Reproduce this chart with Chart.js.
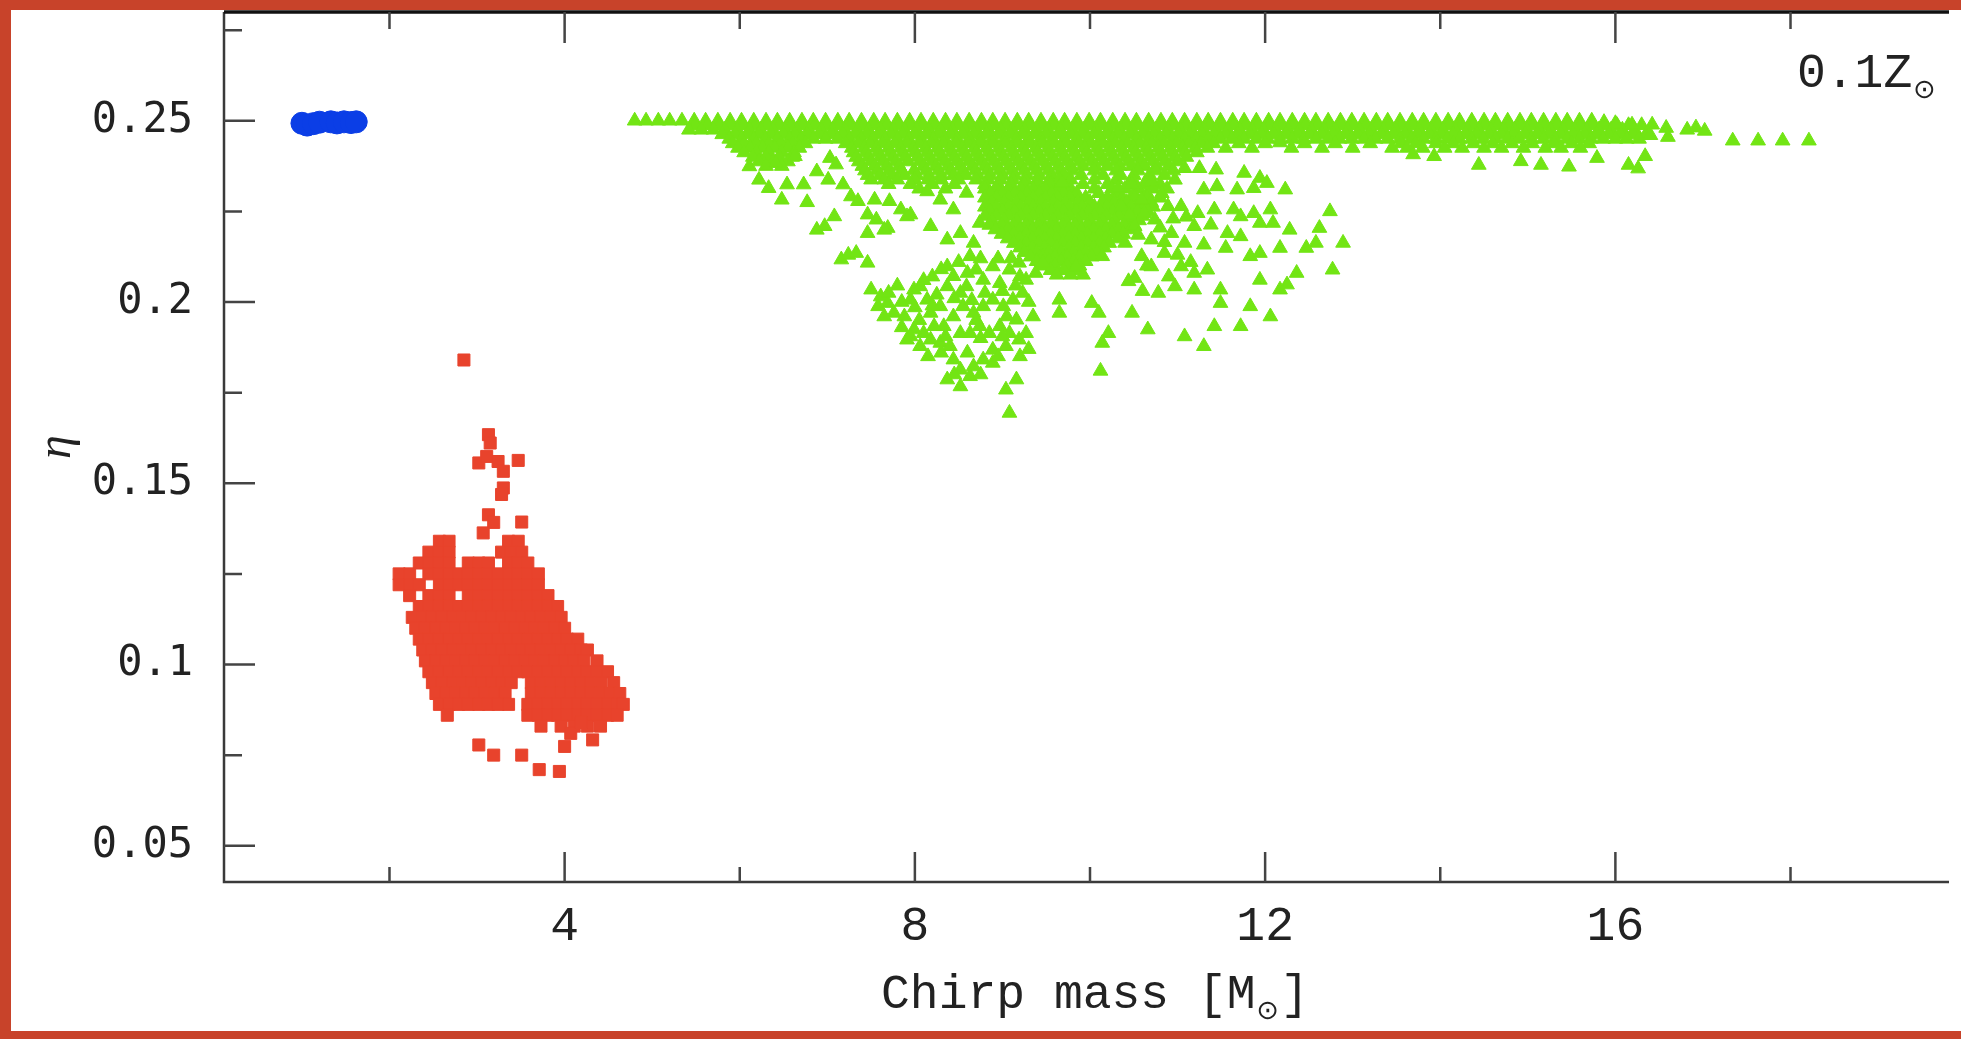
<!DOCTYPE html>
<html>
<head>
<meta charset="utf-8">
<title>Chirp mass vs eta</title>
<script src="https://cdn.jsdelivr.net/npm/chart.js@4.4.1/dist/chart.umd.min.js"></script>
<style>
  html, body { margin:0; padding:0; overflow:hidden; background:#c8432a; }
  #panel { position:absolute; left:11px; top:10px; width:1950px; height:1021px; background:#fff; }
  #wrap { position:absolute; left:0; top:0; width:1961px; height:1039px; }
</style>
</head>
<body>
<div id="panel"></div>
<div id="wrap"><canvas id="c" width="1961" height="1039"></canvas></div>
<script>
// axis ticks
const xMajorTicks = [4, 8, 12, 16];
const xMinorTicks = [2, 6, 10, 14, 18];
const yMajorTicks = [0.05, 0.1, 0.15, 0.2, 0.25];
const yMinorTicks = [0.075, 0.125, 0.175, 0.225, 0.275];

// NS-NS (blue circles)
const blueMass = [1.00, 1.06, 1.13, 1.20, 1.33, 1.40, 1.48, 1.56, 1.62];
const blueEta  = [0.2493, 0.2488, 0.2492, 0.2496, 0.2497, 0.2494, 0.2497, 0.2495, 0.2497];

// BH-NS (red squares): dense block read row by row, then loose points
const redRowEta = [0.134, 0.131, 0.128, 0.125, 0.122, 0.119, 0.116, 0.113, 0.110, 0.107, 0.104, 0.101, 0.098, 0.095, 0.092, 0.089, 0.086, 0.083];
const redRowMass = [
  [2.57, 2.68, 3.36, 3.47],
  [2.45, 2.57, 2.68, 3.28, 3.39, 3.51],
  [2.34, 2.45, 2.57, 2.68, 2.90, 3.02, 3.13, 3.36, 3.47, 3.58],
  [2.11, 2.23, 2.45, 2.57, 2.68, 2.79, 2.90, 3.02, 3.13, 3.24, 3.36, 3.47, 3.58, 3.70],
  [2.11, 2.23, 2.34, 2.57, 2.68, 2.79, 2.90, 3.02, 3.13, 3.24, 3.36, 3.47, 3.58, 3.70],
  [2.23, 2.45, 2.57, 2.68, 2.90, 3.02, 3.13, 3.24, 3.36, 3.47, 3.58, 3.70, 3.81],
  [2.34, 2.45, 2.57, 2.68, 2.79, 2.90, 3.02, 3.13, 3.24, 3.36, 3.47, 3.58, 3.70, 3.81, 3.92],
  [2.26, 2.38, 2.49, 2.60, 2.72, 2.83, 2.94, 3.06, 3.17, 3.28, 3.39, 3.51, 3.62, 3.73, 3.85, 3.96],
  [2.30, 2.41, 2.53, 2.64, 2.75, 2.87, 2.98, 3.09, 3.21, 3.32, 3.43, 3.55, 3.66, 3.77, 3.89, 4.00],
  [2.34, 2.45, 2.57, 2.68, 2.79, 2.90, 3.02, 3.13, 3.24, 3.36, 3.47, 3.58, 3.70, 3.81, 3.92, 4.03, 4.15],
  [2.38, 2.49, 2.60, 2.72, 2.83, 2.94, 3.06, 3.17, 3.28, 3.39, 3.51, 3.62, 3.73, 3.85, 3.96, 4.07, 4.19, 4.26],
  [2.41, 2.53, 2.64, 2.75, 2.87, 2.98, 3.09, 3.21, 3.32, 3.43, 3.55, 3.66, 3.77, 3.89, 4.00, 4.11, 4.22, 4.37],
  [2.45, 2.57, 2.68, 2.79, 2.90, 3.02, 3.13, 3.24, 3.36, 3.47, 3.58, 3.70, 3.81, 3.92, 4.03, 4.15, 4.26, 4.37, 4.49],
  [2.49, 2.60, 2.72, 2.83, 2.94, 3.06, 3.17, 3.28, 3.39, 3.62, 3.73, 3.85, 3.96, 4.07, 4.19, 4.30, 4.41, 4.56],
  [2.53, 2.64, 2.75, 2.87, 2.98, 3.09, 3.21, 3.32, 3.62, 3.73, 3.85, 3.96, 4.07, 4.19, 4.30, 4.41, 4.52, 4.63],
  [2.57, 2.68, 2.79, 2.90, 3.02, 3.13, 3.24, 3.36, 3.58, 3.70, 3.81, 3.92, 4.03, 4.15, 4.26, 4.37, 4.49, 4.60, 4.67],
  [2.66, 3.58, 3.70, 3.81, 3.92, 4.03, 4.15, 4.26, 4.37, 4.49, 4.60],
  [3.73, 3.96, 4.11, 4.26, 4.41]
];
const redLoose = [
  [2.85, 0.1840], [3.13, 0.1634], [3.15, 0.1611], [3.02, 0.1556], [3.11, 0.1574], [3.24, 0.1560],
  [3.30, 0.1533], [3.47, 0.1563], [3.30, 0.1487], [3.28, 0.1469], [3.13, 0.1413], [3.19, 0.1392],
  [3.07, 0.1363], [3.51, 0.1393], [3.02, 0.0778], [3.19, 0.0750], [3.51, 0.0750], [3.71, 0.0710],
  [3.94, 0.0705], [4.00, 0.0774], [4.07, 0.0810], [4.32, 0.0792], [4.19, 0.0840]
];

// BH-BH (green triangles): saturated band and core read row by row, then loose points
const greenRowEta = [0.25000, 0.24875, 0.24750, 0.24625, 0.24500, 0.24375, 0.24250, 0.24125, 0.24000, 0.23875,
  0.23750, 0.23625, 0.23500, 0.23375, 0.23250, 0.23125, 0.23000, 0.22875, 0.22750, 0.22625, 0.22500, 0.22375,
  0.22250, 0.22125, 0.22000, 0.21875, 0.21750, 0.21625, 0.21500, 0.21375, 0.21250, 0.21125, 0.21000, 0.20875, 0.20750];
const greenRowMass = [
  // 0.25000
  [4.80, 4.93, 5.07, 5.20, 5.34, 5.48, 5.61, 5.75, 5.89, 6.02, 6.16, 6.30, 6.43, 6.57, 6.71, 6.84, 6.98, 7.12, 7.25, 7.39,
   7.53, 7.66, 7.80, 7.94, 8.07, 8.21, 8.35, 8.48, 8.62, 8.76, 8.89, 9.03, 9.17, 9.30, 9.44, 9.58, 9.71, 9.85, 9.99, 10.12,
   10.26, 10.40, 10.53, 10.67, 10.81, 10.94, 11.08, 11.22, 11.35, 11.49, 11.63, 11.76, 11.90, 12.04, 12.17, 12.31, 12.45,
   12.58, 12.72, 12.86, 12.99, 13.13, 13.27, 13.40, 13.54, 13.68, 13.81, 13.95, 14.09, 14.22, 14.36, 14.50, 14.63, 14.77,
   14.91, 15.04, 15.18, 15.32, 15.45, 15.59, 15.73],
  // 0.24875
  [5.49, 5.63, 5.77, 5.90, 6.04, 6.18, 6.31, 6.45, 6.59, 6.72, 6.86, 7.00, 7.13, 7.27, 7.41, 7.54, 7.68, 7.82, 7.95, 8.09,
   8.23, 8.36, 8.50, 8.64, 8.77, 8.91, 9.05, 9.18, 9.32, 9.46, 9.59, 9.73, 9.87, 10.00, 10.14, 10.28, 10.41, 10.55, 10.69,
   10.82, 10.96, 11.10, 11.23, 11.37, 11.51, 11.64, 11.78, 11.92, 12.05, 12.19, 12.33, 12.46, 12.60, 12.74, 12.87, 13.01,
   13.15, 13.28, 13.42, 13.56, 13.69, 13.83, 13.97, 14.10, 14.24, 14.38, 14.51, 14.65, 14.79, 14.92, 15.06, 15.20, 15.33,
   15.47, 15.61, 15.74, 15.88, 16.02, 16.15, 16.30],
  // 0.24750
  [5.42, 5.56, 5.70, 5.83, 5.97, 6.11, 6.24, 6.38, 6.52, 6.65, 6.79, 6.93, 7.06, 7.20, 7.34, 7.47, 7.61, 7.75, 7.88, 8.02,
   8.16, 8.29, 8.43, 8.57, 8.70, 8.84, 8.98, 9.11, 9.25, 9.39, 9.52, 9.66, 9.80, 9.93, 10.07, 10.21, 10.34, 10.48, 10.62,
   10.75, 10.89, 11.03, 11.16, 11.30, 11.44, 11.57, 11.71, 11.85, 11.98, 12.12, 12.26, 12.39, 12.53, 12.67, 12.80, 12.94,
   13.08, 13.21, 13.35, 13.49, 13.62, 13.76, 13.90, 14.03, 14.17, 14.31, 14.44, 14.58, 14.72, 14.85, 14.99, 15.13, 15.26,
   15.40, 15.54, 15.67, 15.81, 15.95, 16.08, 16.22],
  // 0.24625
  [5.80, 5.95, 6.09, 6.22, 6.36, 6.50, 6.63, 6.77, 6.91, 7.05, 7.18, 7.32, 7.45, 7.59, 7.73, 7.86, 8.00, 8.14, 8.27, 8.41,
   8.55, 8.68, 8.82, 8.96, 9.09, 9.23, 9.37, 9.50, 9.64, 9.78, 9.91, 10.05, 10.19, 10.32, 10.46, 10.60, 10.73, 10.87, 11.01,
   11.14, 11.28, 11.42, 11.55, 11.69, 11.83, 11.96, 12.10, 12.24, 12.37, 12.51, 12.65, 12.78, 12.92, 13.06, 13.19, 13.33,
   13.47, 13.60, 13.74, 13.88, 14.01, 14.15, 14.29, 14.42, 14.56, 14.70, 14.83, 14.97, 15.11, 15.24, 15.38, 15.52, 15.65,
   15.79, 15.93, 16.06, 16.20, 16.35],
  // 0.24500
  [5.88, 6.02, 6.16, 6.29, 6.43, 6.57, 6.70, 6.84, 6.98, 7.12, 7.25, 7.39, 7.52, 7.66, 7.80, 7.93, 8.07, 8.21, 8.34, 8.48,
   8.62, 8.75, 8.89, 9.03, 9.16, 9.30, 9.44, 9.57, 9.71, 9.85, 9.98, 10.12, 10.26, 10.39, 10.53, 10.67, 10.80, 10.94, 11.08,
   11.21, 11.35, 11.49, 11.62, 11.76, 11.90, 12.03, 12.17, 12.31, 12.44, 12.58, 12.72, 12.85, 12.99, 13.13, 13.26, 13.40,
   13.54, 13.67, 13.81, 13.95, 14.08, 14.22, 14.36, 14.49, 14.63, 14.77, 14.90, 15.04, 15.18, 15.31, 15.45, 15.59, 15.72,
   15.86, 16.00, 16.13, 16.27],
  // 0.24375
  [5.92, 6.05, 6.19, 6.33, 6.47, 6.61, 6.75, 7.21, 7.35, 7.49, 7.63, 7.77, 7.91, 8.05, 8.19, 8.33, 8.47, 8.61, 8.75, 8.89,
   9.03, 9.17, 9.31, 9.45, 9.59, 9.73, 9.87, 10.01, 10.15, 10.29, 10.43, 10.57, 10.71, 10.85, 10.99, 11.13, 11.27, 11.41,
   11.70, 12.00, 12.45, 12.80, 13.20, 13.55, 13.72, 13.95, 14.15, 14.38, 14.60, 14.82, 15.05, 15.30, 15.50, 15.70],
  // 0.24250
  [5.98, 6.12, 6.26, 6.40, 6.55, 6.68, 7.28, 7.42, 7.56, 7.70, 7.84, 7.98, 8.12, 8.26, 8.40, 8.54, 8.68, 8.82, 8.96, 9.10,
   9.24, 9.38, 9.52, 9.66, 9.80, 9.94, 10.08, 10.22, 10.36, 10.50, 10.64, 10.78, 10.92, 11.06, 11.20, 11.34, 11.55, 11.85,
   12.30, 12.65, 13.00, 13.45, 13.62, 13.80, 14.05, 14.25, 14.50, 14.70, 14.95, 15.20, 15.38, 15.60],
  // 0.24125
  [6.05, 6.19, 6.33, 6.48, 6.62, 7.30, 7.44, 7.58, 7.72, 7.86, 8.00, 8.14, 8.28, 8.42, 8.56, 8.70, 8.84, 8.98, 9.12, 9.26,
   9.40, 9.54, 9.68, 9.82, 9.96, 10.10, 10.24, 10.38, 10.52, 10.66, 10.80, 10.94, 11.08, 11.22],
  // 0.24000
  [6.15, 6.30, 6.45, 6.60, 7.33, 7.47, 7.61, 7.75, 7.89, 8.03, 8.17, 8.31, 8.45, 8.59, 8.73, 8.87, 9.01, 9.15, 9.29, 9.43,
   9.57, 9.71, 9.85, 9.99, 10.13, 10.27, 10.41, 10.55, 10.69, 10.83, 10.97, 11.10],
  // 0.23875
  [6.22, 6.38, 6.55, 7.36, 7.50, 7.64, 7.78, 7.92, 8.06, 8.20, 8.34, 8.48, 8.62, 8.76, 8.90, 9.04, 9.18, 9.32, 9.46, 9.60,
   9.74, 9.88, 10.02, 10.16, 10.30, 10.44, 10.58, 10.72, 10.86, 11.00],
  // 0.23750
  [6.30, 6.48, 7.40, 7.54, 7.68, 7.82, 8.10, 8.24, 8.38, 8.52, 8.66, 8.80, 8.94, 9.08, 9.22, 9.36, 9.50, 9.64, 9.78, 9.92,
   10.06, 10.20, 10.34, 10.48, 10.62, 10.76, 10.90],
  // 0.23625
  [7.43, 7.57, 7.71, 7.85, 7.99, 8.13, 8.27, 8.41, 8.55, 8.69, 8.83, 8.97, 9.11, 9.25, 9.39, 9.53, 9.67, 9.80, 10.05, 10.30,
   10.55, 10.75, 10.95],
  // 0.23500
  [7.46, 7.60, 7.74, 7.88, 8.02, 8.16, 8.30, 8.44, 8.58, 8.72, 8.86, 9.00, 9.14, 9.28, 9.42, 9.56, 9.70, 9.90, 10.15, 10.35,
   10.50, 10.68, 10.85],
  // 0.23375
  [7.50, 7.65, 7.80, 8.00, 8.15, 8.30, 8.50, 8.70, 8.84, 8.98, 9.12, 9.26, 9.40, 9.54, 9.65, 9.78, 10.05, 10.30, 10.48, 10.70],
  // 0.23250
  [7.70, 7.95, 8.20, 8.45, 8.80, 8.95, 9.10, 9.25, 9.40, 9.55, 9.70, 9.92, 10.20, 10.45, 10.62, 10.80],
  // 0.23125
  [8.05, 8.35, 8.80, 8.93, 9.07, 9.21, 9.35, 9.49, 9.63, 9.78, 10.05, 10.25, 10.40, 10.55, 10.72, 10.88],
  // 0.23000
  [8.86, 9.00, 9.14, 9.28, 9.42, 9.56, 9.70, 9.85, 10.10, 10.30, 10.50, 10.65, 10.82],
  // 0.22875
  [8.80, 8.93, 9.07, 9.21, 9.35, 9.49, 9.63, 9.77, 9.95, 10.20, 10.37, 10.51, 10.65, 10.80],
  // 0.22750
  [8.88, 9.02, 9.16, 9.30, 9.44, 9.58, 9.72, 9.86, 10.00, 10.14, 10.28, 10.42, 10.56, 10.70],
  // 0.22625
  [8.80, 8.93, 9.07, 9.21, 9.35, 9.49, 9.63, 9.77, 9.91, 10.05, 10.19, 10.33, 10.47, 10.61, 10.72],
  // 0.22500
  [8.86, 9.00, 9.14, 9.28, 9.42, 9.56, 9.70, 9.84, 9.98, 10.12, 10.26, 10.40, 10.54, 10.66],
  // 0.22375
  [8.80, 8.93, 9.07, 9.21, 9.35, 9.49, 9.63, 9.77, 9.91, 10.05, 10.19, 10.33, 10.47, 10.60],
  // 0.22250
  [8.88, 9.02, 9.16, 9.30, 9.44, 9.58, 9.72, 9.86, 10.00, 10.14, 10.28, 10.42, 10.56],
  // 0.22125
  [8.85, 8.99, 9.13, 9.27, 9.41, 9.55, 9.69, 9.83, 9.97, 10.11, 10.25, 10.39, 10.50],
  // 0.22000
  [8.92, 9.06, 9.20, 9.34, 9.48, 9.62, 9.76, 9.90, 10.04, 10.18, 10.32, 10.46],
  // 0.21875
  [8.99, 9.13, 9.27, 9.41, 9.55, 9.69, 9.83, 9.97, 10.11, 10.25, 10.38],
  // 0.21750
  [9.06, 9.20, 9.34, 9.48, 9.62, 9.76, 9.90, 10.04, 10.18, 10.32],
  // 0.21625
  [9.13, 9.27, 9.41, 9.55, 9.69, 9.83, 9.97, 10.11, 10.22],
  // 0.21500
  [9.20, 9.34, 9.48, 9.62, 9.76, 9.90, 10.04, 10.16],
  // 0.21375
  [9.25, 9.39, 9.53, 9.67, 9.81, 9.95, 10.08],
  // 0.21250
  [9.32, 9.46, 9.60, 9.74, 9.88, 10.02],
  // 0.21125
  [9.39, 9.53, 9.67, 9.81, 9.95],
  // 0.21000
  [9.46, 9.60, 9.74, 9.88],
  // 0.20875
  [9.55, 9.70, 9.85],
  // 0.20750
  [9.62, 9.78, 9.92]
];
const greenLoose = [
  // right end of the band
  [15.87, 0.2496], [16.00, 0.2493], [16.19, 0.2489], [16.42, 0.2489], [16.58, 0.2480], [16.82, 0.2475], [16.92, 0.2481],
  [17.02, 0.2472], [17.34, 0.2445], [17.63, 0.2445], [17.91, 0.2445], [18.21, 0.2445], [16.40, 0.2460], [16.60, 0.2455],
  [13.69, 0.2407], [13.93, 0.2402], [14.44, 0.2378], [14.92, 0.2388], [15.15, 0.2378], [15.47, 0.2373], [15.79, 0.2397],
  [16.15, 0.2378], [16.26, 0.2368], [16.34, 0.2402], [12.17, 0.2440],
  // left side below the band
  [6.11, 0.2374], [6.22, 0.2337], [6.33, 0.2314], [6.41, 0.2383], [6.48, 0.2282], [6.54, 0.2324], [6.63, 0.2402],
  [6.73, 0.2324], [6.77, 0.2275], [6.88, 0.2360], [6.88, 0.2199], [6.97, 0.2209], [7.01, 0.2337], [7.03, 0.2397],
  [7.08, 0.2236], [7.10, 0.2379], [7.16, 0.2117], [7.18, 0.2324], [7.24, 0.2130], [7.27, 0.2291], [7.33, 0.2135],
  [7.35, 0.2278], [7.46, 0.2241], [7.46, 0.2190], [7.46, 0.2108], [7.56, 0.2227], [7.69, 0.2204], [7.71, 0.2278],
  [7.84, 0.2255], [7.91, 0.2236], [7.54, 0.2282], [7.65, 0.2199], [7.95, 0.2241], [8.14, 0.2305], [8.18, 0.2209],
  [8.29, 0.2282], [8.37, 0.2172], [8.44, 0.2255], [8.52, 0.2190], [8.59, 0.2301], [8.67, 0.2163], [8.74, 0.2218],
  // lower lobe
  [7.50, 0.2034], [7.61, 0.2015], [7.58, 0.1988], [7.69, 0.1997], [7.76, 0.1970], [7.88, 0.1960], [7.95, 0.2006],
  [7.99, 0.2034], [8.06, 0.2043], [8.14, 0.2006], [8.18, 0.1970], [8.29, 0.1988], [8.37, 0.2043], [8.37, 0.2098],
  [8.44, 0.2071], [8.52, 0.2025], [8.59, 0.2043], [8.63, 0.2126], [8.70, 0.2089], [8.78, 0.2061], [8.89, 0.2098],
  [8.97, 0.2052], [9.08, 0.2089], [9.19, 0.2108], [9.27, 0.2061], [9.38, 0.2080], [9.46, 0.2108], [9.23, 0.2025],
  [9.12, 0.2006], [9.01, 0.1988], [8.89, 0.2006], [8.78, 0.1988], [8.67, 0.1970], [8.55, 0.1988], [8.44, 0.1960],
  [8.33, 0.1933], [8.22, 0.1933], [8.10, 0.1914], [7.99, 0.1924], [7.91, 0.1896], [8.06, 0.1878], [8.18, 0.1896],
  [8.29, 0.1887], [8.40, 0.1878], [8.52, 0.1914], [8.63, 0.1914], [8.74, 0.1933], [8.85, 0.1914], [8.97, 0.1933],
  [9.08, 0.1914], [9.16, 0.1951], [9.27, 0.1914], [9.19, 0.1896], [9.04, 0.1878], [8.89, 0.1868], [8.78, 0.1841],
  [8.67, 0.1822], [8.52, 0.1813], [8.44, 0.1841], [8.37, 0.1786], [8.52, 0.1767], [8.63, 0.1795], [9.04, 0.1758],
  [9.16, 0.1786], [9.08, 0.1694], [8.89, 0.1832], [7.70, 0.2025], [7.85, 0.2000], [8.00, 0.1985], [8.25, 0.2020],
  [8.45, 0.2010], [8.65, 0.2005], [8.80, 0.2025], [9.00, 0.2030], [9.15, 0.2045], [9.30, 0.2000], [8.60, 0.2080],
  [8.20, 0.2070], [8.05, 0.1950], [8.35, 0.1905], [8.75, 0.1900], [9.00, 0.1905], [8.60, 0.1860], [8.30, 0.1860],
  [7.85, 0.1930], [9.35, 0.1960], [9.20, 0.2070], [8.95, 0.2120], [8.50, 0.2110], [7.80, 0.2045], [8.10, 0.2060],
  [8.30, 0.2090], [8.75, 0.2120], [9.10, 0.2120], [7.65, 0.1960], [7.95, 0.1905], [8.15, 0.1850], [8.45, 0.1800],
  [8.75, 0.1800], [8.95, 0.1850], [9.20, 0.1850], [9.30, 0.1870], [8.20, 0.1990], [8.70, 0.1950], [9.05, 0.1960],
  // right lobe
  [11.08, 0.2369], [11.25, 0.2369], [11.44, 0.2365], [11.76, 0.2356], [11.94, 0.2342], [9.68, 0.2328], [10.32, 0.2314],
  [10.48, 0.2324], [10.70, 0.2333], [10.97, 0.2337], [11.30, 0.2310], [11.45, 0.2319], [11.68, 0.2310], [11.87, 0.2314],
  [12.02, 0.2328], [12.23, 0.2310], [10.36, 0.2264], [10.59, 0.2282], [10.89, 0.2264], [11.04, 0.2264], [11.23, 0.2245],
  [11.42, 0.2255], [11.64, 0.2255], [11.72, 0.2236], [11.87, 0.2245], [12.06, 0.2255], [12.74, 0.2250], [11.19, 0.2209],
  [11.38, 0.2213], [11.57, 0.2190], [11.72, 0.2181], [11.94, 0.2218], [12.09, 0.2218], [12.28, 0.2199], [12.62, 0.2204],
  [11.08, 0.2163], [11.30, 0.2158], [11.55, 0.2149], [11.83, 0.2126], [11.94, 0.2135], [12.17, 0.2149], [12.47, 0.2149],
  [12.58, 0.2163], [12.89, 0.2163], [9.84, 0.2098], [10.14, 0.2126], [10.51, 0.2066], [10.70, 0.2098], [11.04, 0.2098],
  [11.19, 0.2080], [11.34, 0.2089], [11.94, 0.2061], [12.36, 0.2080], [12.77, 0.2089], [10.44, 0.2057], [10.78, 0.2025],
  [10.97, 0.2043], [11.19, 0.2034], [11.49, 0.2034], [12.17, 0.2034], [12.25, 0.2048], [9.65, 0.2006], [10.02, 0.1997],
  [10.48, 0.1970], [10.10, 0.1970], [9.65, 0.1970], [11.49, 0.1997], [11.83, 0.1988], [12.06, 0.1960], [10.21, 0.1914],
  [10.66, 0.1924], [11.08, 0.1905], [11.42, 0.1933], [11.72, 0.1933], [10.14, 0.1887], [11.30, 0.1878], [10.12, 0.1810],
  [10.51, 0.2209], [10.70, 0.2172], [10.85, 0.2135], [10.40, 0.2163], [10.59, 0.2126], [10.93, 0.2190], [10.74, 0.2227],
  [10.45, 0.2240], [10.62, 0.2245], [10.80, 0.2205], [10.95, 0.2230], [11.10, 0.2235], [10.55, 0.2185], [10.85, 0.2165],
  [11.00, 0.2130], [10.65, 0.2100], [10.90, 0.2070], [11.15, 0.2110], [10.60, 0.2030]
];

function rowsToPoints(etas, rows) {
  const pts = [];
  etas.forEach((e, i) => rows[i].forEach(m => pts.push({x: m, y: e})));
  return pts;
}
const bluePts = blueMass.map((m, i) => ({x: m, y: blueEta[i]}));
const redPts = rowsToPoints(redRowEta, redRowMass).concat(redLoose.map(p => ({x: p[0], y: p[1]})));
const greenPts = rowsToPoints(greenRowEta, greenRowMass).concat(greenLoose.map(p => ({x: p[0], y: p[1]})));

// text with a small subscript sun symbol
function drawSunLabel(ctx, head, tail, x, baseY, align) {
  const mainFont = '48px "Liberation Mono", monospace';
  const subFont = '27px "DejaVu Sans", sans-serif';
  ctx.font = mainFont;
  const wHead = ctx.measureText(head).width;
  const wTail = ctx.measureText(tail).width;
  ctx.font = subFont;
  const wSub = ctx.measureText('⊙').width;
  const total = wHead + wSub + 2 + wTail;
  const x0 = align === 'center' ? x - total / 2 : x;
  ctx.textAlign = 'left';
  ctx.textBaseline = 'alphabetic';
  ctx.font = mainFont;
  ctx.fillText(head, x0, baseY);
  ctx.font = subFont;
  ctx.fillText('⊙', x0 + wHead + 1, baseY + 11);
  if (tail) {
    ctx.font = mainFont;
    ctx.fillText(tail, x0 + wHead + wSub + 2, baseY);
  }
}

const framePlugin = {
  id: 'frame',
  afterDraw(chart) {
    const {ctx, chartArea: a, scales: {x, y}} = chart;
    ctx.save();
    ctx.lineCap = 'butt';
    ctx.strokeStyle = '#3a3a3a';
    ctx.lineWidth = 2.5;
    ctx.beginPath();
    ctx.moveTo(a.left, a.top);
    ctx.lineTo(a.left, a.bottom);
    ctx.lineTo(a.right, a.bottom);
    ctx.stroke();
    ctx.strokeStyle = '#111';
    ctx.lineWidth = 3.5;
    ctx.beginPath();
    ctx.moveTo(a.left, a.top);
    ctx.lineTo(a.right, a.top);
    ctx.stroke();

    ctx.strokeStyle = '#444';
    ctx.lineWidth = 2.5;
    ctx.beginPath();
    xMajorTicks.forEach(v => {
      const p = x.getPixelForValue(v);
      ctx.moveTo(p, a.bottom); ctx.lineTo(p, a.bottom - 30);
      ctx.moveTo(p, a.top); ctx.lineTo(p, a.top + 31);
    });
    xMinorTicks.forEach(v => {
      const p = x.getPixelForValue(v);
      ctx.moveTo(p, a.bottom); ctx.lineTo(p, a.bottom - 15);
      ctx.moveTo(p, a.top); ctx.lineTo(p, a.top + 17);
    });
    yMajorTicks.forEach(v => {
      const p = y.getPixelForValue(v);
      ctx.moveTo(a.left, p); ctx.lineTo(a.left + 31, p);
    });
    yMinorTicks.forEach(v => {
      const p = y.getPixelForValue(v);
      ctx.moveTo(a.left, p); ctx.lineTo(a.left + 18, p);
    });
    ctx.stroke();

    ctx.fillStyle = '#222';
    drawSunLabel(ctx, 'Chirp mass [M', ']', 1095, 1008, 'center');
    drawSunLabel(ctx, '0.1Z', '', 1797, 87, 'left');

    ctx.save();
    ctx.translate(57, 447);
    ctx.rotate(-Math.PI / 2);
    ctx.font = 'italic 48px "Liberation Serif", serif';
    ctx.textAlign = 'center';
    ctx.textBaseline = 'middle';
    ctx.fillText('η', 0, 0);
    ctx.restore();
    ctx.restore();
  }
};

new Chart(document.getElementById('c'), {
  type: 'scatter',
  data: {
    datasets: [
      { label: 'NS-NS', data: bluePts, pointStyle: 'circle', pointRadius: 11,
        backgroundColor: '#0b3ee6', borderColor: '#0b3ee6', borderWidth: 1 },
      { label: 'BH-NS', data: redPts, pointStyle: 'rect', pointRadius: 8.5,
        backgroundColor: '#e8432c', borderColor: '#e8432c', borderWidth: 1 },
      { label: 'BH-BH', data: greenPts, pointStyle: 'triangle', pointRadius: 8.5,
        backgroundColor: '#72e514', borderColor: '#72e514', borderWidth: 1 }
    ]
  },
  options: {
    responsive: false,
    animation: false,
    devicePixelRatio: 1,
    events: [],
    layout: { padding: { top: 12, right: 0, left: 0, bottom: 0 } },
    plugins: { legend: { display: false }, tooltip: { enabled: false } },
    scales: {
      x: {
        type: 'linear', min: 0.11, max: 19.81,
        grid: { display: false, drawTicks: false },
        border: { display: false },
        afterBuildTicks: s => { s.ticks = xMajorTicks.map(v => ({value: v})); },
        afterFit: s => { s.height = 157; s.paddingLeft = 0; s.paddingRight = 0; },
        ticks: {
          padding: 16, color: '#222', maxRotation: 0, autoSkip: false,
          font: { family: '"Liberation Mono", monospace', size: 48 },
          callback: v => String(v)
        }
      },
      y: {
        type: 'linear', min: 0.04, max: 0.28,
        grid: { display: false, drawTicks: false },
        border: { display: false },
        afterBuildTicks: s => { s.ticks = yMajorTicks.map(v => ({value: v})); },
        afterFit: s => { s.width = 224; s.paddingTop = 0; s.paddingBottom = 0; },
        ticks: {
          padding: 31, color: '#222',
          font: { family: '"DejaVu Sans Mono", monospace', size: 42 },
          callback: v => String(v)
        }
      }
    }
  },
  plugins: [framePlugin]
});
</script>
</body>
</html>
